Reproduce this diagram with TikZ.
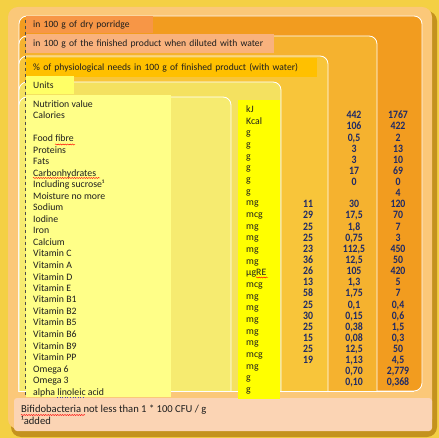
\documentclass[tikz,border=0pt]{standalone}
\usepackage{fontspec}
\setmainfont{Carlito}
\usepackage{xcolor}
\usetikzlibrary{decorations.pathmorphing}
\definecolor{bg}{HTML}{F4D044}
\definecolor{shadow}{HTML}{C4921E}
\definecolor{outer}{HTML}{FBC879}
\definecolor{lvlA}{HTML}{F29C1F}
\definecolor{lvlB}{HTML}{F5B22F}
\definecolor{lvlC}{HTML}{F8C53A}
\definecolor{lvlD}{HTML}{F4E160}
\definecolor{lvlE}{HTML}{F6EB70}
\definecolor{hdrA}{HTML}{F79646}
\definecolor{hdrB}{HTML}{F9B27D}
\definecolor{hdrC}{HTML}{FFC000}
\definecolor{hdrD}{HTML}{FFFF66}
\definecolor{listbg}{HTML}{FFFF88}
\definecolor{unitbg}{HTML}{FFFF00}
\definecolor{peach}{HTML}{FBD4B4}
\definecolor{txt}{HTML}{1E1E1E}
\definecolor{navy}{HTML}{1F2A66}

\begin{document}
\begin{tikzpicture}[x=1pt,y=-1pt,
  lbl/.style={anchor=base west,inner sep=0pt,font=\fontsize{9.8}{11}\selectfont,text=txt},
  num/.style={anchor=base,inner sep=0pt,font=\fontsize{9.8}{11}\selectfont\bfseries,text=navy},
  hdr/.style={anchor=north west,inner xsep=7pt,inner ysep=0pt,align=left,font=\fontsize{9.6}{11}\selectfont,text=txt},
  frame/.style={draw=white,line width=0.8pt,rounded corners=8pt},
  spell/.style={draw=red,decorate,decoration={snake,amplitude=0.5pt,segment length=2.4pt},line width=0.45pt}]

\useasboundingbox (0,0) rectangle (439,438);
\fill[bg] (0,0) rectangle (439,438);
\fill[shadow,rounded corners=10pt] (11,11) rectangle (437,437);
\fill[outer,rounded corners=10pt] (8,7) rectangle (432,429);

% nested frames
\filldraw[frame,fill=lvlA] (19,16) rectangle (422,391);
\begin{scope}
  \clip (0,0) rectangle (439,391);
  \filldraw[frame,fill=lvlB] (19,36) rectangle (377,400);
  \filldraw[frame,fill=lvlC] (19,56) rectangle (328,400);
  \filldraw[frame,fill=lvlD] (19,82) rectangle (281,400);
  \filldraw[frame,fill=lvlE] (19,97) rectangle (231,400);
\end{scope}
\draw[white,line width=0.8pt] (19,391) -- (414,391);
\draw[gray!60!black,line width=0.4pt,dash pattern=on 3pt off 3pt] (25,20) -- (25,396);

% footer
\fill[peach,rounded corners=3pt] (14,398) rectangle (432,431);

% headers
\node[hdr,fill=hdrA,text width=113pt,minimum height=17pt] (dry) at (26,16) {\mbox{in 100 g of dry porridge}};
\node[hdr,fill=hdrB,text width=234pt,minimum height=19pt] (wet) at (26,34) {\mbox{in 100 g of the finished product when diluted with water}};
\node[hdr,fill=hdrC,text width=277pt,minimum height=19pt] (need) at (26,58) {\mbox{\% of physiological needs in 100 g of finished product (with water)}};
\node[hdr,fill=hdrD,text width=34pt,minimum height=18pt] (units) at (26,76) {Units};
\node[anchor=north west,fill=listbg,minimum width=145pt,minimum height=302pt,inner sep=0pt] (list) at (26,95) {};
\node[anchor=north west,fill=unitbg,minimum width=42pt,minimum height=299pt,inner sep=0pt] (ucol) at (238,100) {};

% names
\foreach \t [count=\i from 0] in {Nutrition value,Calories,,Food fibre,Proteins,Fats,Carbonhydrates,
    Including sucrose¹,Moisture no more,Sodium,Iodine,Iron,Calcium,Vitamin C,Vitamin A,Vitamin D,
    Vitamin E,Vitamin B1,Vitamin B2,Vitamin B5,Vitamin B6,Vitamin B9,Vitamin PP,Omega 6,Omega 3,
    alpha linoleic acid}
  \node[lbl] (n\i) at (33,{107.5+\i*11.5}) {\t};

% units
\foreach \u [count=\i from 0] in {kJ,Kcal,g,g,g,g,g,g,mg,mcg,mg,mg,mg,mg,µgRE,mcg,mg,mg,mg,mg,mg,mcg,mg,g,g}
  \node[lbl] (u\i) at (246,{112.5+\i*11.67}) {\u};

% % of needs
\foreach \v [count=\i from 8] in {11,29,25,25,23,36,26,13,58,25,30,25,15,25,19}
  \node[num] (a\i) at (308,{118.8+\i*11.13}) {\scalebox{1}[1.15]{\v}};

% finished product
\foreach \v [count=\i from 0] in {442,106,{0,5},3,3,17,0,,30,{17,5},{1,8},{0,75},{112,5},{12,5},105,
    {1,3},{1,75},{0,1},{0,15},{0,38},{0,08},{12,5},{1,13},{0,70},{0,10}}
  \node[num] (b\i) at (354,{118.8+\i*11.13}) {\scalebox{1}[1.15]{\v}};

% dry porridge
\foreach \v [count=\i from 0] in {1767,422,2,13,10,69,0,4,120,70,7,3,450,50,420,5,7,{0,4},{0,6},
    {1,5},{0,3},50,{4,5},{2,779},{0,368}}
  \node[num] (c\i) at (398,{118.8+\i*11.13}) {\scalebox{1}[1.15]{\v}};

\node[lbl,font=\fontsize{10.6}{12}\selectfont] (bifi) at (21,412.5) {Bifidobacteria not less than 1 * 100 CFU / g};
\node[lbl,font=\fontsize{10.6}{12}\selectfont] (added) at (21,424.5) {¹added};

% spelling marks
\draw[spell] (55,144.5) -- (75,144.5);
\draw[spell] (33,178) -- (100,178);
\draw[spell] (256,277.5) -- (268,277.5);
\draw[spell] (21,415) -- (85,415);
\draw[blue!40!gray,line width=0.6pt,dotted] (57,397) -- (84,397);
\end{tikzpicture}
\end{document}
